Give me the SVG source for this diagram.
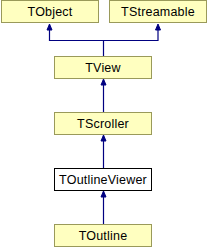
<svg xmlns="http://www.w3.org/2000/svg" width="208" height="248" viewBox="0 0 208 248">
<style>
.n rect{fill:#ffffc0;stroke:#9a9a5a;stroke-width:1}
.w rect{fill:#ffffff;stroke:#000000;stroke-width:1}
text{font-family:"Liberation Sans",Arial,sans-serif;font-size:12.5px;letter-spacing:0.2px;fill:#000;text-anchor:middle}
.e{fill:none;stroke:#000080;stroke-width:1.2}
.h{fill:#000080;stroke:#000080}
</style>
<rect width="208" height="248" fill="#ffffff"/>
<g id="connectors">
<path class="e" d="M103.5,112 V84 M103.5,168 V140 M103.5,224 V196 M103.5,56 V40.5 H49.5 V29 M103.5,40.5 H158 V29"/>
<path class="h" d="M103.5,79 L106,85 L101,85 Z M103.5,135 L106,141 L101,141 Z M103.5,191 L106,197 L101,197 Z M49.5,24 L52,30 L47,30 Z M158,24 L160.5,30 L155.5,30 Z"/>
</g>
<g id="TObject" class="n"><rect x="1.5" y="0.5" width="97" height="22"/><text x="50" y="16">TObject</text></g>
<g id="TStreamable" class="n"><rect x="109.5" y="0.5" width="97" height="22"/><text x="158" y="16">TStreamable</text></g>
<g id="TView" class="n"><rect x="54.5" y="56.5" width="97" height="22"/><text x="103" y="72">TView</text></g>
<g id="TScroller" class="n"><rect x="54.5" y="112.5" width="97" height="22"/><text x="103" y="128">TScroller</text></g>
<g id="TOutlineViewer" class="w"><rect x="54.5" y="168.5" width="97" height="22"/><text x="103" y="184">TOutlineViewer</text></g>
<g id="TOutline" class="n"><rect x="54.5" y="224.5" width="97" height="22"/><text x="103" y="240">TOutline</text></g>
</svg>
